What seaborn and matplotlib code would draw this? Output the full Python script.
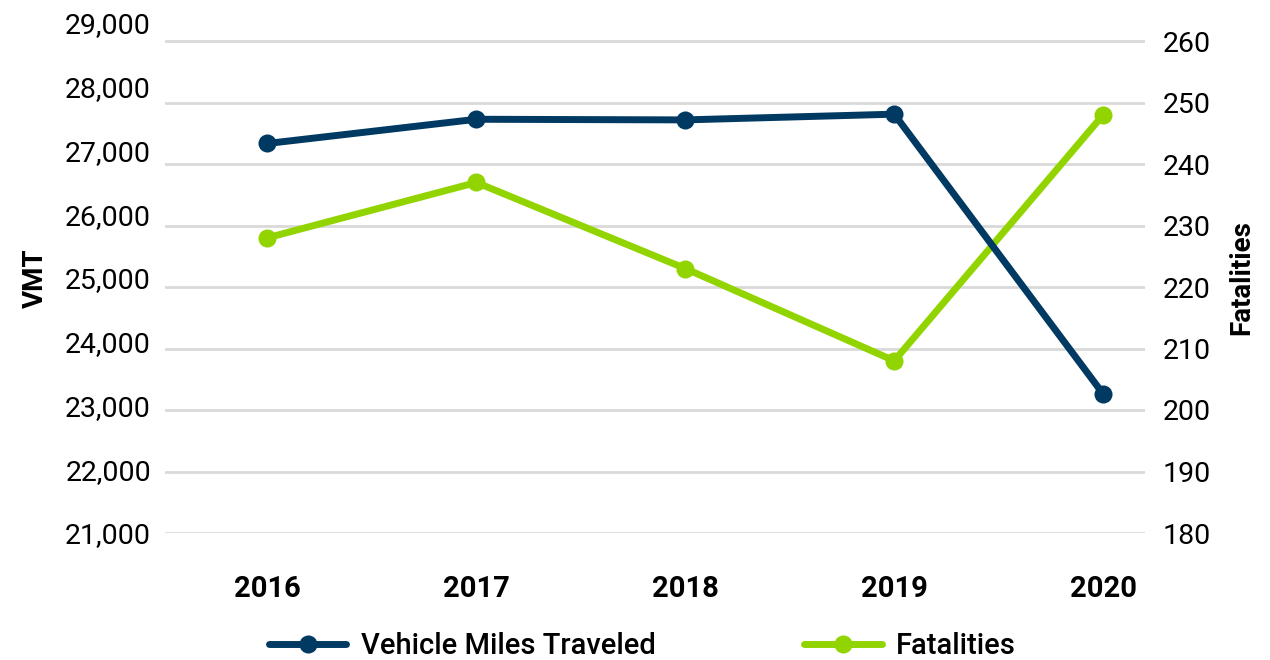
import pandas as pd
import numpy as np
import matplotlib
matplotlib.use("Agg")
import matplotlib.pyplot as plt
import matplotlib.ticker as mticker
import seaborn as sns

# data
years = ["2016", "2017", "2018", "2019", "2020"]
vmt = [27110, 27490, 27480, 27570, 23180]
fatalities = [228, 237, 223, 208, 248]

vmt_ticks = [21000, 22000, 23000, 24000, 25000, 26000, 27000, 28000, 29000]
fat_ticks = [180, 190, 200, 210, 220, 230, 240, 250, 260]

df = pd.DataFrame({"year": years, "vmt": vmt, "fatalities": fatalities})

sns.set_style("white")
plt.rcParams["font.family"] = ["Roboto", "DejaVu Sans"]
plt.rcParams["text.color"] = "black"
plt.rcParams["axes.labelcolor"] = "black"
plt.rcParams["xtick.color"] = "black"
plt.rcParams["ytick.color"] = "black"

blue = "#003a63"
green = "#92d400"

fig = plt.figure(figsize=(12.7, 6.6), dpi=100)
ax = fig.add_axes([165 / 1270, 1 - 533 / 660, 980 / 1270, 510 / 660])
ax2 = ax.twinx()

# fatalities on the right axis (drawn below the VMT line)
sns.lineplot(data=df, x="year", y="fatalities", ax=ax2, color=green, lw=5,
             marker="o", markersize=13, markeredgewidth=0, label="Fatalities",
             legend=False)
# VMT on the left axis
sns.lineplot(data=df, x="year", y="vmt", ax=ax, color=blue, lw=5,
             marker="o", markersize=13, markeredgewidth=0,
             label="Vehicle Miles Traveled", legend=False)

ax.set_zorder(ax2.get_zorder() + 1)
ax.patch.set_visible(False)

ax.set_xlim(-0.49, 4.2)
ax.set_ylim(21000, 29000)
ax.set_yticks(vmt_ticks)
ax.yaxis.set_major_formatter(mticker.StrMethodFormatter("{x:,.0f}"))
ax.grid(False)

ax2.set_ylim(180, 180 + 80 * 510 / 492)
ax2.set_yticks(fat_ticks)
ax2.grid(True, axis="y", color="#d9d9d9", lw=2)
ax2.set_axisbelow(True)

for a in (ax, ax2):
    for s in a.spines.values():
        s.set_visible(False)
    a.tick_params(length=0, labelsize=20.5, colors="black")

ax.tick_params(axis="y", pad=10)
ax2.tick_params(axis="y", pad=13)
ax.tick_params(axis="x", pad=30, labelsize=21)
for t in ax.get_xticklabels():
    t.set_fontweight("bold")

ax.set_xlabel("")
ax.set_ylabel("VMT", fontsize=20, fontweight="bold", labelpad=12, color="black")
ax2.set_ylabel("Fatalities", fontsize=20, fontweight="bold", labelpad=12,
               color="black")

h1, l1 = ax.get_legend_handles_labels()
h2, l2 = ax2.get_legend_handles_labels()
fig.legend(h1 + h2, l1 + l2, loc="center", bbox_to_anchor=(0.506, 1 - 646 / 660),
           ncol=2, frameon=False, handlelength=2.65,
           columnspacing=5.1, handletextpad=0.5,
           prop={"weight": "medium", "size": 21})

fig.savefig("out.png", dpi=100)
